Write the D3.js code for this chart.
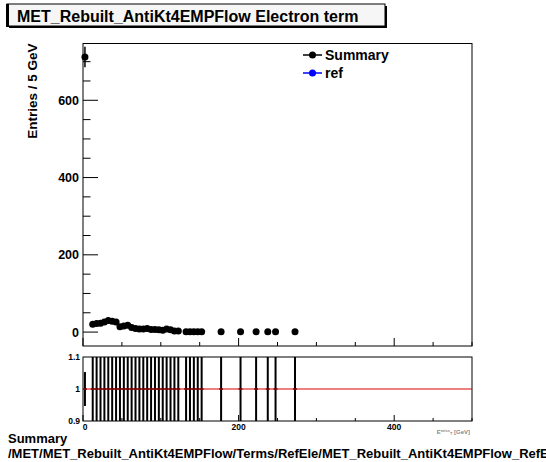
<!DOCTYPE html>
<html>
<head>
<meta charset="utf-8">
<script src="https://cdn.jsdelivr.net/npm/d3@7"></script>
<style>
  body { margin: 0; background: #fff; }
  svg { font-family: "Liberation Sans", Arial, Helvetica, sans-serif; font-weight: bold; }
</style>
</head>
<body>
<svg id="chart" width="546" height="462"></svg>
<script>
// histogram: MET electron term, 5 GeV bins (only non-empty bins listed)
const binCenters = [2.5, 12.5, 17.5, 22.5, 27.5, 32.5, 37.5, 42.5, 47.5, 52.5, 57.5,
  62.5, 67.5, 72.5, 77.5, 82.5, 87.5, 92.5, 97.5, 102.5, 107.5, 112.5, 117.5, 122.5,
  132.5, 137.5, 142.5, 147.5, 152.5, 177.5, 202.5, 222.5, 237.5, 247.5, 272.5]
const counts = [712, 20, 22, 23, 26, 30, 28, 26, 14, 16, 18,
  12, 9, 8, 8, 9, 7, 7, 6, 5, 8, 6, 3, 3,
  1, 1, 1, 1, 1, 1, 1, 1, 1, 1, 1]
const binWidth = 5
const xTicksMajor = [0, 200, 400]
const yTicksMajor = [0, 200, 400, 600]
const ratioTicks = [0.9, 1, 1.1]
const legendItems = [{name: "Summary", color: "#000"}, {name: "ref", color: "#0000ff"}]

const svg = d3.select("#chart")

// frames
const main = {left: 83, right: 472, top: 43.5, bottom: 346}
const ratio = {top: 357, bottom: 421}

const x = d3.scaleLinear().domain([0, 500]).range([main.left, main.right])
const y = d3.scaleLinear().domain([-36, 747]).range([main.bottom, main.top])
const yr = d3.scaleLinear().domain([0.9, 1.1]).range([ratio.bottom, ratio.top])

const data = binCenters.map((c, i) => ({x: c, n: counts[i]}))

// ---- main pad ----
svg.append("rect")
  .attr("x", main.left).attr("y", main.top)
  .attr("width", main.right - main.left).attr("height", main.bottom - main.top)
  .attr("fill", "none").attr("stroke", "#000")

// y axis, major + minor
const yMinor = d3.range(0, 747, 50)
svg.append("g").selectAll("line").data(yMinor).join("line")
  .attr("x1", main.left).attr("x2", d => main.left + (d % 200 === 0 ? 15 : 7.5))
  .attr("y1", d => y(d)).attr("y2", d => y(d))
  .attr("stroke", "#000")
svg.append("g").selectAll("text").data(yTicksMajor).join("text")
  .attr("x", 79).attr("y", d => y(d) + 4.5)
  .attr("text-anchor", "end").attr("font-size", 12.5).text(d => d)

// x axis ticks on main pad
const xMinor = d3.range(0, 501, 50)
svg.append("g").selectAll("line").data(xMinor).join("line")
  .attr("x1", d => x(d)).attr("x2", d => x(d))
  .attr("y1", main.bottom).attr("y2", d => main.bottom - (d % 200 === 0 ? 8 : 4))
  .attr("stroke", "#000")

svg.append("text")
  .attr("transform", `translate(37, ${main.top}) rotate(-90)`)
  .attr("text-anchor", "end").attr("font-size", 13.5)
  .text("Entries / 5 GeV")

// error bars + markers
svg.append("g").selectAll("line").data(data).join("line")
  .attr("x1", d => x(d.x)).attr("x2", d => x(d.x))
  .attr("y1", d => y(d.n + Math.sqrt(d.n))).attr("y2", d => y(d.n - Math.sqrt(d.n)))
  .attr("stroke", "#000").attr("stroke-width", 1.5)
svg.append("g").selectAll("circle").data(data).join("circle")
  .attr("cx", d => x(d.x)).attr("cy", d => y(d.n)).attr("r", 3.5)
  .attr("fill", "#000")

// legend
const lg = svg.append("g").selectAll("g").data(legendItems).join("g")
  .attr("transform", (d, i) => `translate(303, ${55 + i * 18})`)
lg.append("line").attr("x1", 0).attr("x2", 19).attr("stroke", d => d.color).attr("stroke-width", 1.5)
lg.append("circle").attr("cx", 9.5).attr("r", 3.5).attr("fill", d => d.color)
lg.append("text").attr("x", 22).attr("y", 5).attr("font-size", 14).text(d => d.name)

// ---- ratio pad ----
svg.append("rect")
  .attr("x", main.left).attr("y", ratio.top)
  .attr("width", main.right - main.left).attr("height", ratio.bottom - ratio.top)
  .attr("fill", "none").attr("stroke", "#000")

svg.append("g").selectAll("line").data(xMinor).join("line")
  .attr("x1", d => x(d)).attr("x2", d => x(d))
  .attr("y1", ratio.bottom).attr("y2", d => ratio.bottom - (d % 200 === 0 ? 6 : 3))
  .attr("stroke", "#000")

svg.append("clipPath").attr("id", "rclip").append("rect")
  .attr("x", main.left).attr("y", ratio.top)
  .attr("width", main.right - main.left).attr("height", ratio.bottom - ratio.top)

const rg = svg.append("g").attr("clip-path", "url(#rclip)")
rg.selectAll("line.err").data(data).join("line").attr("class", "err")
  .attr("x1", d => x(d.x)).attr("x2", d => x(d.x))
  .attr("y1", d => yr(1 + Math.sqrt(2 / d.n))).attr("y2", d => yr(1 - Math.sqrt(2 / d.n)))
  .attr("stroke", "#000").attr("stroke-width", 2)
rg.selectAll("line.bw").data(data).join("line").attr("class", "bw")
  .attr("x1", d => x(d.x - binWidth / 2)).attr("x2", d => x(d.x + binWidth / 2))
  .attr("y1", yr(1)).attr("y2", yr(1))
  .attr("stroke", "#000").attr("stroke-width", 1.5)
svg.append("line")
  .attr("x1", main.left).attr("x2", main.right)
  .attr("y1", yr(1)).attr("y2", yr(1))
  .attr("stroke", "#dd0000").attr("stroke-width", 1.2)

svg.append("g").selectAll("text").data(ratioTicks).join("text")
  .attr("x", 80).attr("y", d => yr(d) + 3)
  .attr("text-anchor", "end").attr("font-size", 8.5).text(d => d)
svg.append("g").selectAll("text").data(xTicksMajor).join("text")
  .attr("x", d => x(d) + (d === 0 ? 2 : 0)).attr("y", 430)
  .attr("text-anchor", "middle").attr("font-size", 8.5).text(d => d)

const xt = svg.append("text").attr("x", 470).attr("y", 434).attr("text-anchor", "end")
  .attr("font-size", 6).attr("fill", "#888")
xt.append("tspan").text("E")
xt.append("tspan").attr("font-size", 4).attr("dy", -2).text("miss")
xt.append("tspan").attr("font-size", 4).attr("dy", 3).text("T")
xt.append("tspan").attr("dy", -1).text(" [GeV]")

// ---- title box ----
svg.append("rect").attr("x", 9).attr("y", 6).attr("width", 378).attr("height", 22)
  .attr("fill", "#000")
svg.append("rect").attr("x", 7).attr("y", 4).attr("width", 378).attr("height", 22)
  .attr("fill", "#f6f6f6").attr("stroke", "#000")
svg.append("rect").attr("x", 6).attr("y", 4).attr("width", 3).attr("height", 23).attr("fill", "#000")
svg.append("text").attr("x", 17).attr("y", 21.5).attr("font-size", 16)
  .text("MET_Rebuilt_AntiKt4EMPFlow Electron term")

// ---- bottom labels ----
svg.append("text").attr("x", 8).attr("y", 443).attr("font-size", 13).text("Summary")
svg.append("text").attr("x", 8).attr("y", 458).attr("font-size", 13)
  .text("/MET/MET_Rebuilt_AntiKt4EMPFlow/Terms/RefEle/MET_Rebuilt_AntiKt4EMPFlow_RefEle")
</script>
</body>
</html>
